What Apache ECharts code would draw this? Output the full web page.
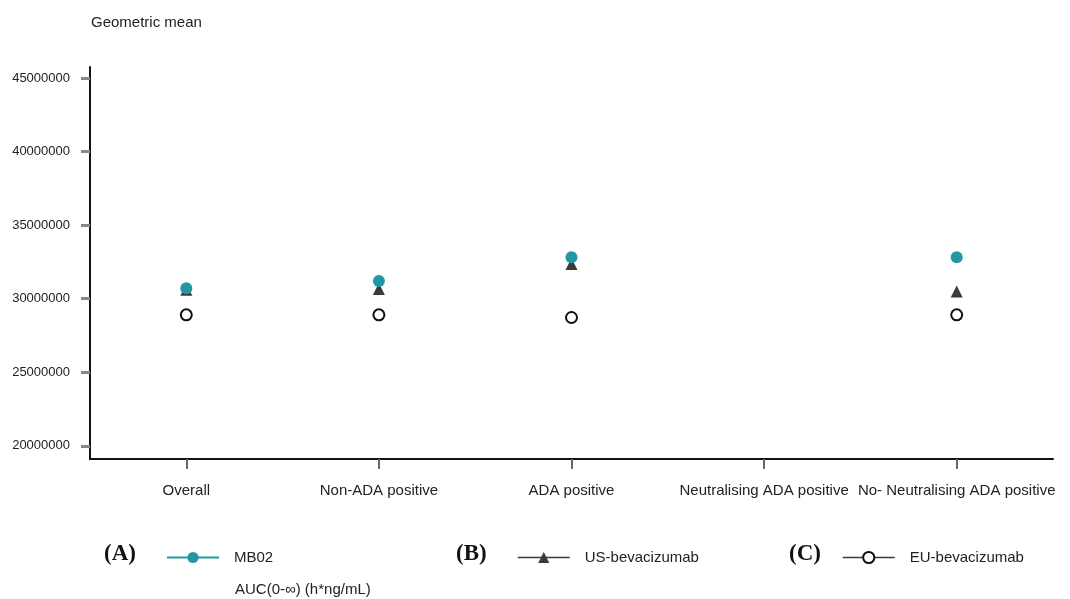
<!DOCTYPE html>
<html>
<head>
<meta charset="utf-8">
<script src="https://cdn.jsdelivr.net/npm/echarts@6/dist/echarts.min.js"></script>
<style>html,body{margin:0;padding:0;background:#fff}#c{width:1070px;height:599px}</style>
</head>
<body>
<div id="c"></div>
<script>
const categories = ['Overall', 'Non-ADA positive', 'ADA positive', 'Neutralising ADA positive', 'No- Neutralising ADA positive'];
const mb02 = [30710000, 31200000, 32820000, null, 32820000];
const usBev = [30600000, 30650000, 32360000, null, 30480000];
const euBev = [28900000, 28900000, 28720000, null, 28900000];
const yTicks = [20000000, 25000000, 30000000, 35000000, 40000000, 45000000];

const FONT = '"Liberation Sans", Arial, sans-serif';
const TEAL = '#2497a5';
const DARK = '#3b3b38';

const chart = echarts.init(document.getElementById('c'));
chart.setOption({
  animation: false,
  backgroundColor: '#fff',
  title: {
    text: 'Geometric mean', left: 86, top: 10,
    textStyle: { fontFamily: FONT, fontSize: 15, fontWeight: 'normal', color: '#222' }
  },
  grid: { left: 90, right: 17, top: 67, bottom: 140 },
  xAxis: {
    type: 'category', data: categories,
    axisLine: { lineStyle: { color: '#111', width: 2 } },
    axisTick: { show: true, alignWithLabel: true, interval: 0, length: 10, lineStyle: { color: '#666', width: 2 } },
    axisLabel: { margin: 24, fontFamily: FONT, fontSize: 15, color: '#222', interval: 0 },
    splitLine: { show: false }
  },
  yAxis: {
    type: 'value', min: 19100000, max: 45750000,
    axisLine: { show: true, lineStyle: { color: '#111', width: 2 } },
    axisTick: { show: true, length: 9, customValues: yTicks, lineStyle: { color: '#888', width: 3 } },
    axisLabel: { margin: 20, customValues: yTicks, fontFamily: FONT, fontSize: 13, color: '#222',
      formatter: function (v) { return String(v); } },
    splitLine: { show: false }
  },
  legend: [
    { data: ['MB02'], left: 166, top: 550, padding: 0, itemWidth: 52, itemHeight: 14,
      lineStyle: { color: TEAL, width: 2, opacity: 1 },
      textStyle: { fontFamily: FONT, fontSize: 15, color: '#222', padding: [0, 0, 0, 10] } },
    { data: ['US-bevacizumab'], left: 517, top: 550, padding: 0, itemWidth: 52, itemHeight: 14,
      lineStyle: { color: DARK, width: 1.5, opacity: 1 },
      textStyle: { fontFamily: FONT, fontSize: 15, color: '#222', padding: [0, 0, 0, 10] } },
    { data: ['EU-bevacizumab'], left: 842, top: 550, padding: 0, itemWidth: 52, itemHeight: 14,
      lineStyle: { color: DARK, width: 1.5, opacity: 1 },
      textStyle: { fontFamily: FONT, fontSize: 15, color: '#222', padding: [0, 0, 0, 10] } }
  ],
  graphic: [
    { type: 'text', left: 104, top: 543, style: { text: '(A)', font: 'bold 23px "Liberation Serif", "Times New Roman", serif', fill: '#111' } },
    { type: 'text', left: 456, top: 543, style: { text: '(B)', font: 'bold 23px "Liberation Serif", "Times New Roman", serif', fill: '#111' } },
    { type: 'text', left: 789, top: 543, style: { text: '(C)', font: 'bold 23px "Liberation Serif", "Times New Roman", serif', fill: '#111' } },
    { type: 'text', left: 235, top: 582, style: { text: 'AUC(0-∞) (h*ng/mL)', font: '15px "Liberation Sans", Arial, sans-serif', fill: '#222' } }
  ],
  series: [
    { name: 'EU-bevacizumab', type: 'line', data: euBev, z: 2,
      symbol: 'circle', symbolSize: 11,
      itemStyle: { color: '#fff', borderColor: '#111', borderWidth: 2 },
      lineStyle: { opacity: 0 } },
    { name: 'US-bevacizumab', type: 'line', data: usBev, z: 3,
      symbol: 'triangle', symbolSize: 12,
      itemStyle: { color: DARK },
      lineStyle: { opacity: 0 } },
    { name: 'MB02', type: 'line', data: mb02, z: 4,
      symbol: 'circle', symbolSize: 12,
      itemStyle: { color: TEAL },
      lineStyle: { opacity: 0 } }
  ]
});
</script>
</body>
</html>
